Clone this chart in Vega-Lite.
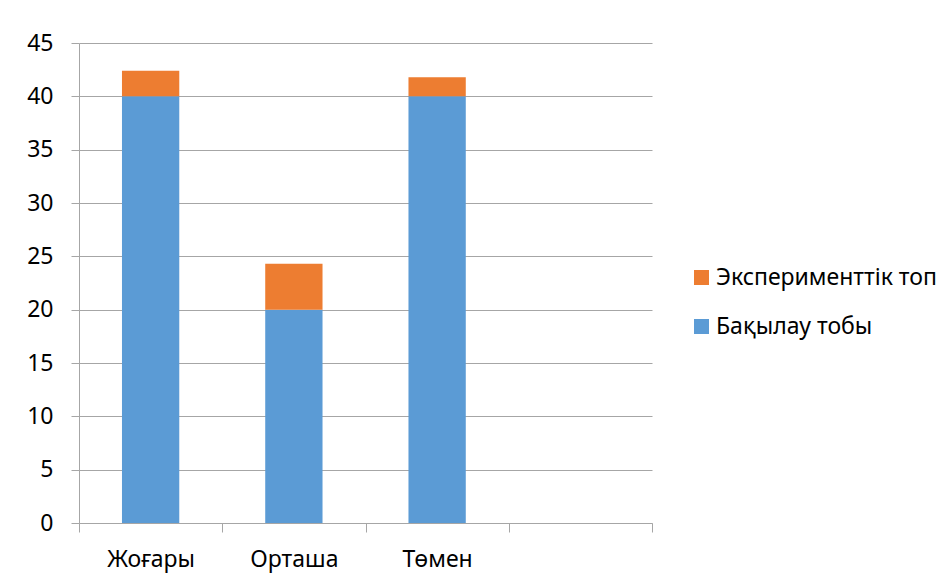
{
  "$schema": "https://vega.github.io/schema/vega-lite/v6.json",
  "autosize": "none",
  "width": 573,
  "height": 480,
  "padding": {"left": 79, "top": 43, "right": 296, "bottom": 59},
  "background": "white",
  "config": {
    "view": {"stroke": null},
    "font": "Noto Sans"
  },
  "data": {
    "values": [
      {"category": "Жоғары", "group": "Бақылау тобы", "value": 40, "ord": 1},
      {"category": "Жоғары", "group": "Эксперименттік топ", "value": 2.4, "ord": 2},
      {"category": "Орташа", "group": "Бақылау тобы", "value": 20, "ord": 1},
      {"category": "Орташа", "group": "Эксперименттік топ", "value": 4.3, "ord": 2},
      {"category": "Төмен", "group": "Бақылау тобы", "value": 40, "ord": 1},
      {"category": "Төмен", "group": "Эксперименттік топ", "value": 1.8, "ord": 2}
    ]
  },
  "mark": {"type": "bar", "width": {"band": 0.4}},
  "encoding": {
    "x": {
      "field": "category",
      "type": "nominal",
      "scale": {"domain": ["Жоғары", "Орташа", "Төмен", "empty"], "paddingInner": 0, "paddingOuter": 0},
      "axis": {
        "title": null,
        "labelAngle": 0,
        "labelFontSize": 23,
        "labelColor": "#000000",
        "labelPadding": 16,
        "labelExpr": "datum.value == 'empty' ? '' : datum.value",
        "tickBand": "extent",
        "tickSize": 9,
        "tickColor": "#a6a6a6",
        "domainColor": "#a6a6a6",
        "grid": false
      }
    },
    "y": {
      "field": "value",
      "type": "quantitative",
      "stack": "zero",
      "scale": {"domain": [0, 45], "nice": false},
      "axis": {
        "title": null,
        "values": [0, 5, 10, 15, 20, 25, 30, 35, 40, 45],
        "labelFontSize": 23,
        "labelColor": "#000000",
        "labelPadding": 18,
        "tickSize": 8,
        "tickColor": "#a6a6a6",
        "domainColor": "#a6a6a6",
        "gridColor": "#a6a6a6",
        "grid": true
      }
    },
    "color": {
      "field": "group",
      "type": "nominal",
      "scale": {"domain": ["Эксперименттік топ", "Бақылау тобы"], "range": ["#ED7D31", "#5B9BD5"]},
      "legend": {
        "title": null,
        "orient": "none",
        "legendX": 611,
        "legendY": 223,
        "symbolType": "square",
        "symbolSize": 225,
        "symbolStrokeWidth": 0,
        "labelFontSize": 23,
        "labelColor": "#000000",
        "labelOffset": 3,
        "labelLimit": 0,
        "rowPadding": 25
      }
    },
    "order": {"field": "ord", "type": "quantitative"}
  }
}
